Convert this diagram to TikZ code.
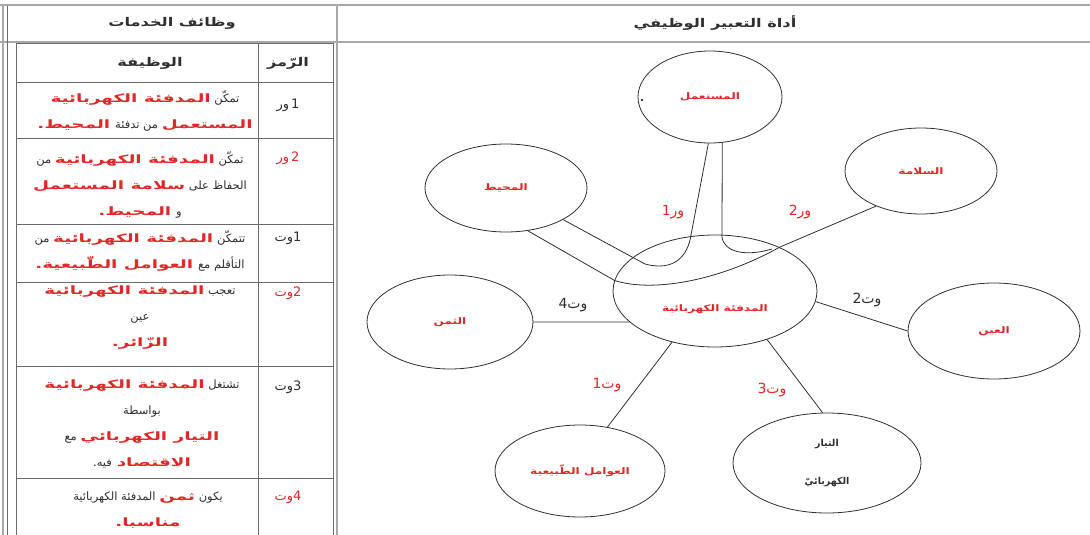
\documentclass[tikz,border=0pt]{standalone}
\usepackage{fontspec}
\newfontfamily\ar[Script=Arabic]{DejaVu Sans}
\newfontfamily\arw[Script=Arabic, FakeStretch=1.6]{DejaVu Sans}
\newfontfamily\arx[Script=Arabic, FakeStretch=1.35]{DejaVu Sans}
\TeXXeTstate=1
\usetikzlibrary{shapes.geometric}
\definecolor{fr}{HTML}{E02828}
\definecolor{ln}{HTML}{303030}
\definecolor{gr}{HTML}{A8A8A8}
\definecolor{tl}{HTML}{6A6A6A}
\newcommand{\K}[1]{\beginR #1\endR}
\newcommand{\R}[1]{{\arw\bfseries\color{fr}\beginR #1\endR}}
\tikzset{
  ell/.style={ellipse, draw=ln, line width=0.8pt, inner sep=0pt, text=fr,
    font=\arx\bfseries\fontsize{9}{11}\selectfont},
  conn/.style={draw=ln, line width=0.8pt},
  tabtext/.style={text=ln, align=center, font=\ar\fontsize{11.5}{26}\selectfont},
  sym/.style={text=ln, font=\ar\fontsize{13}{15}\selectfont},
  head/.style={text=ln, font=\arx\bfseries\fontsize{12}{14}\selectfont},
  lab/.style={font=\ar\fontsize{14}{16}\selectfont},
  tabline/.style={draw=tl, line width=0.7pt},
  frameline/.style={draw=gr, line width=1.8pt}
}
\begin{document}
\begin{tikzpicture}[x=1pt,y=-1pt]
\useasboundingbox (0,0) rectangle (1090,535);
\fill[white] (0,0) rectangle (1090,535);

% ---- frame ----
\draw[frameline] (0,5) -- (1090,5);
\draw[frameline] (0,42) -- (1090,42);
\draw[frameline] (3,5) -- (3,535);
\draw[tabline] (7,6) -- (7,535);
\draw[frameline] (337,5) -- (337,535);

% ---- inner table ----
\draw[tabline] (16,43) -- (16,535);
\draw[tabline] (333,43) -- (333,535);
\draw[tabline] (258,43) -- (258,535);
\foreach \yy in {43,82,138,224,282,366,478} \draw[tabline] (16,\yy) -- (333,\yy);

% ---- headers ----
\node[head] (h1) at (172,23) {\K{وظائف الخدمات}};
\node[head] (h2) at (715,23) {\K{أداة التعبير الوظيفي}};
\node[head] (h3) at (150,63) {\K{الوظيفة}};
\node[head] (h4) at (288,63) {\K{الرّمز}};

% ---- symbols ----
\node[sym] (s1) at (288,105) {\K{ور}\,1};
\node[sym, text=fr] (s2) at (288,158) {\K{ور}\,2};
\node[sym] (s3) at (288,238) {\K{وت}1};
\node[sym, text=fr] (s4) at (288,293) {\K{وت}2};
\node[sym] (s5) at (288,387) {\K{وت}3};
\node[sym, text=fr] (s6) at (288,497) {\K{وت}4};

% ---- functions ----
\node[tabtext] (f1) at (145,111) {\R{المدفئة الكهربائية} \K{تمكّن}\\ \R{المحيط.} \K{من تدفئة} \R{المستعمل}};
\node[tabtext] (f2) at (140,185) {\K{من} \R{المدفئة الكهربائية} \K{تمكّن}\\ \R{سلامة المستعمل} \K{الحفاظ على}\\ \R{المحيط.} \K{و}};
\node[tabtext] (f3) at (140,251) {\K{من} \R{المدفئة الكهربائية} \K{تتمكّن}\\ \R{العوامل الطّبيعية.} \K{التأقلم مع}};
\node[tabtext] (f4) at (140,318) {\R{المدفئة الكهربائية} \K{تعجب}\\ \K{عين}\\ \R{الزّائر.}};
\node[tabtext] (f5) at (142,424) {\R{المدفئة الكهربائية} \K{تشتغل}\\ \K{بواسطة}\\ \K{مع} \R{التيار الكهربائي}\\ \K{فيه.} \R{الاقتصاد}};
\node[tabtext] (f6) at (148,510) {\K{المدفئة الكهربائية} \R{ثمن} \K{يكون}\\ \R{مناسبا.}};

% ---- diagram ellipses ----
\node[ell, minimum width=144pt, minimum height=92pt] (user) at (710,97) {\K{المستعمل}};
\node[ell, minimum width=162pt, minimum height=88pt] (env) at (506,188) {\K{المحيط}};
\node[ell, minimum width=152pt, minimum height=86pt] (saf) at (921,171) {\K{السلامة}};
\node[ell, minimum width=204pt, minimum height=112pt, text height=44pt] (heater) at (715,291) {\K{المدفئة الكهربائية}};
\node[ell, minimum width=166pt, minimum height=94pt] (price) at (450,322) {\K{الثمن}};
\node[ell, minimum width=172pt, minimum height=96pt] (eye) at (994,331) {\K{العين}};
\node[ell, minimum width=170pt, minimum height=92pt] (nature) at (580,471) {\K{العوامل الطّبيعية}};
\node[ell, minimum width=188pt, minimum height=100pt, text=ln, align=center,
  font=\ar\bfseries\fontsize{9.5}{38}\selectfont] (current) at (827,463) {\K{التيار}\\ \K{الكهربائيّ}};
\fill[ln] (642,100) circle (1.4pt);

% ---- connectors ----
\draw[conn] (price.east) -- (heater.200);
\draw[conn] (heater.-6) -- (eye.west);
\draw[conn] (heater.230) -- (nature.58);
\draw[conn] (heater.-43) -- (current.95);
\draw[conn] (env.-29) -- (645,264) .. controls (675,272) and (688,255) .. (691,235) -- (user.268);
\draw[conn] (env.-63) -- (heater.174) .. controls (650,292) and (715,283) .. (780,247) -- (saf.218);
\draw[conn] (user.285) -- (722,237) .. controls (724,252) and (745,257) .. (772,249);

% ---- connector labels ----
\node[lab, text=fr] (l1) at (673,212) {1\K{ور}};
\node[lab, text=fr] (l2) at (800,212) {2\K{ور}};
\node[lab, text=ln] (l3) at (573,305) {4\K{وت}};
\node[lab, text=ln] (l4) at (867,300) {2\K{وت}};
\node[lab, text=fr] (l5) at (607,385) {1\K{وت}};
\node[lab, text=fr] (l6) at (772,390) {3\K{وت}};
\end{tikzpicture}
\end{document}
